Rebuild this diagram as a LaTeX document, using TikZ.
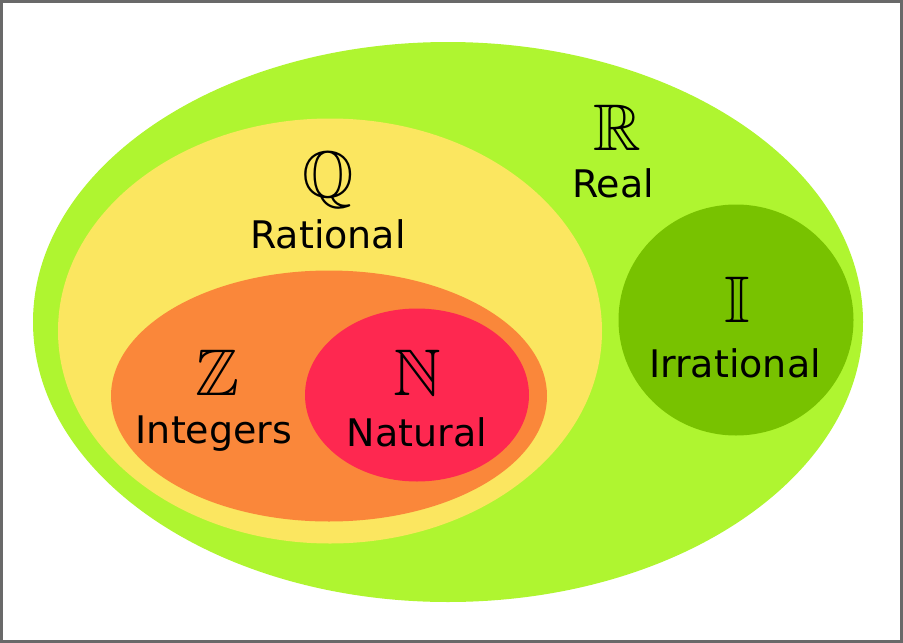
\documentclass[tikz,border=0pt]{standalone}
\usepackage{amssymb}
\usepackage{fontspec}
\setmainfont{DejaVu Sans}
\usetikzlibrary{shapes.geometric, positioning}
\definecolor{realgreen}{RGB}{175,245,48}
\definecolor{ratyellow}{RGB}{251,230,96}
\definecolor{intorange}{RGB}{250,135,58}
\definecolor{natred}{RGB}{254,40,80}
\definecolor{irrgreen}{RGB}{120,194,0}
\definecolor{framegray}{RGB}{105,105,105}
\tikzset{
        numset/.style={ellipse, inner sep=0pt, outer sep=0pt}, % the coloured sets
        setname/.style={anchor=base, inner sep=0pt, font=\fontsize{38}{40}\selectfont},
        setsym/.style={anchor=base, inner sep=0pt, font=\fontsize{66}{70}\selectfont}
        }

\begin{document}
\begin{tikzpicture}[x=1pt, y=-1pt]
        \useasboundingbox (0,0) rectangle (903,643);
        \draw[framegray, line width=3pt] (1.5,1.5) rectangle (901.5,641.5);
        \node[numset, fill=realgreen, minimum width=830pt, minimum height=560pt](R) at (448,322){};
        \node[numset, fill=ratyellow, minimum width=544pt, minimum height=425pt](Q) at (330,331){};
        \node[numset, fill=intorange, minimum width=436pt, minimum height=251pt](Z) at (329,396){};
        \node[numset, fill=natred, minimum width=224pt, minimum height=173pt](N) at (417,395){};
        \node[numset, fill=irrgreen, minimum width=235pt, minimum height=231pt](I) at (736,320){};
        % symbols
        \node[setsym](Rsym) at (617,150){$\mathbb{R}$};
        \node[setsym](Qsym) at (328,197){$\mathbb{Q}$};
        \node[setsym](Zsym) at (217,395){$\mathbb{Z}$};
        \node[setsym](Nsym) at (417,395){$\mathbb{N}$};
        \node[setsym](Isym) at (737,322){$\mathbb{I}$};
        % names
        \node[setname](Rname) at (613,197){Real};
        \node[setname](Qname) at (328,248){Rational};
        \node[setname](Zname) at (214,443){Integers};
        \node[setname](Nname) at (417,446){Natural};
        \node[setname](Iname) at (735,377){Irrational};
\end{tikzpicture}
\end{document}
